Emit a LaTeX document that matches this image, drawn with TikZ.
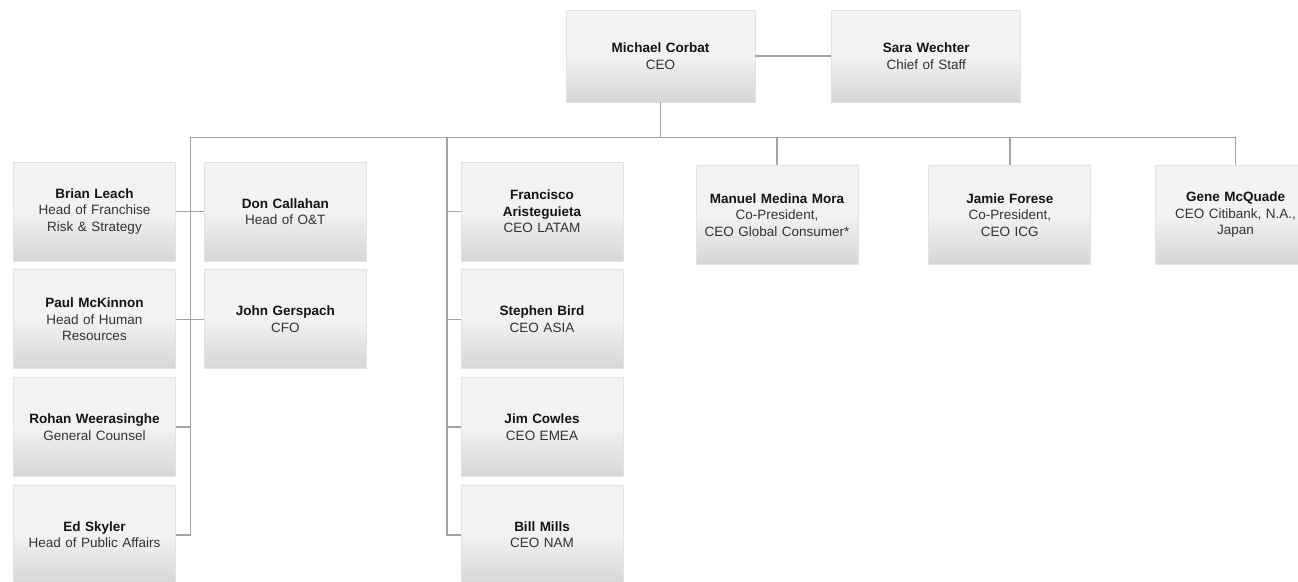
\documentclass[tikz,border=0pt]{standalone}
\usepackage{fontspec}
\setmainfont{Liberation Sans}
\usetikzlibrary{positioning}
\definecolor{boxtop}{HTML}{F2F1F3}
\definecolor{boxbottom}{HTML}{D6D5D8}
\definecolor{boxline}{HTML}{E2E1E4}
\definecolor{linkgray}{HTML}{A2A2A2}
\definecolor{namegray}{HTML}{141414}
\definecolor{rolegray}{HTML}{333333}
\tikzset{
	link/.style={draw=linkgray, line width=1.4pt},
	person/.style={
		rectangle,
		draw=boxline,
		line width=0.8pt,
		top color=boxtop,
		bottom color=boxbottom,
		middle color=boxtop,
		align=center,
		text width=152pt,
		minimum width=162pt,
		minimum height=99pt,
		inner sep=0pt,
		font=\fontsize{13.5}{16.5}\selectfont,
		text=rolegray
	},
	chief/.style={
		person,
		minimum width=189pt,
		minimum height=92pt
	}
}
\newcommand{\staff}[2]{% name, role
	{\bfseries\color{namegray}#1}\\#2}

\begin{document}
\begin{tikzpicture}[x=1pt, y=-1pt]
			\useasboundingbox (0,0) rectangle (1298,581);
			\clip (0,0) rectangle (1298,581);

			\node[chief] (corbat) at (660.5,56) {\staff{Michael Corbat}{CEO}};
			\node[chief, right=76pt of corbat] (wechter) {\staff{Sara Wechter}{Chief of Staff}};
			\draw[link] (corbat) -- (wechter);

			\coordinate (lspine) at (190.5,137.5);
			\coordinate (mspine) at (447,137.5);
			\draw[link] (corbat.south) -- (corbat.south |- lspine);

			\node[person] (leach) at (94.5,211.5) {\staff{Brian Leach}{Head of Franchise\\Risk \& Strategy}};
			\node[person, right=28pt of leach] (callahan) {\staff{Don Callahan}{Head of O\&T}};
			\node[person, below=8pt of leach] (mckinnon) {\staff{Paul McKinnon}{Head of Human\\Resources}};
			\node[person, below=8pt of callahan] (gerspach) {\staff{John Gerspach}{CFO}};
			\node[person, below=8pt of mckinnon] (weerasinghe) {\staff{Rohan Weerasinghe}{General Counsel}};
			\node[person, below=8pt of weerasinghe] (skyler) {\staff{Ed Skyler}{Head of Public Affairs}};

			\node[person] (aristeguieta) at (542,211.5) {\staff{Francisco\\Aristeguieta}{CEO LATAM}};
			\node[person, below=8pt of aristeguieta] (bird) {\staff{Stephen Bird}{CEO ASIA}};
			\node[person, below=8pt of bird] (cowles) {\staff{Jim Cowles}{CEO EMEA}};
			\node[person, below=8pt of cowles] (mills) {\staff{Bill Mills}{CEO NAM}};

			\node[person] (medina) at (777,215) {\staff{Manuel Medina Mora}{Co-President,\\CEO Global Consumer*}};
			\node[person, right=70pt of medina] (forese) {\staff{Jamie Forese}{Co-President,\\CEO ICG}};
			\node[person, minimum width=160pt, right=64pt of forese] (mcquade) {\staff{Gene McQuade}{CEO Citibank, N.A.,\\Japan}};

			\draw[link] (skyler.east) -- (skyler.east -| lspine) -- (lspine) -- (mcquade.north |- lspine) -- (mcquade.north);
			\draw[link] (leach) -- (callahan);
			\draw[link] (mckinnon) -- (gerspach);
			\draw[link] (weerasinghe.east) -- (weerasinghe.east -| lspine);

			\draw[link] (mspine) -- (mspine |- mills.west) -- (mills.west);
			\foreach \who in {aristeguieta, bird, cowles}
				\draw[link] (\who.west) -- (\who.west -| mspine);

			\draw[link] (medina.north) -- (medina.north |- lspine);
			\draw[link] (forese.north) -- (forese.north |- lspine);
		\end{tikzpicture}
\end{document}
